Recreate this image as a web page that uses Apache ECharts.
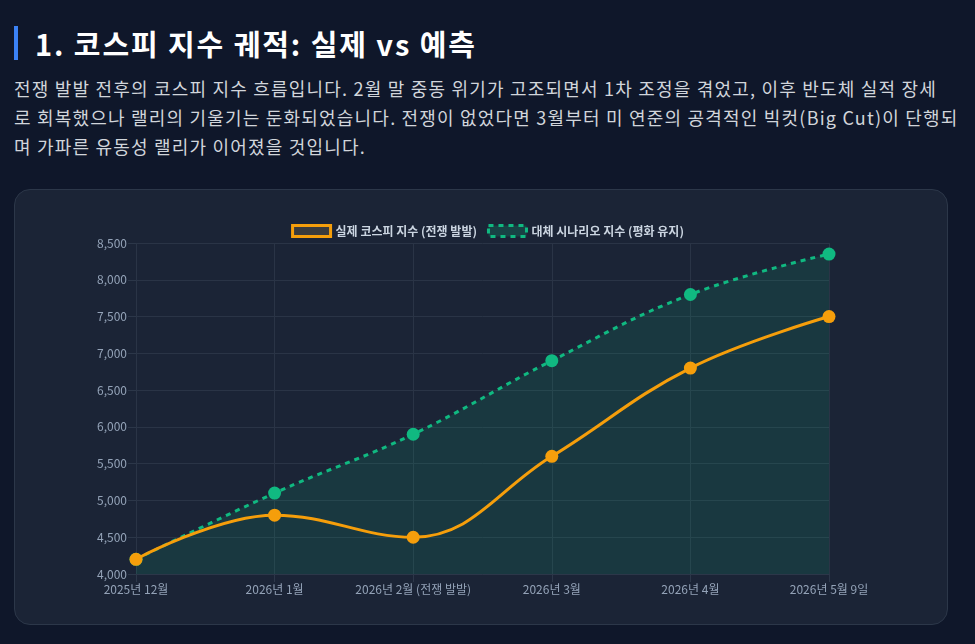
<!DOCTYPE html>
<html>
<head>
<meta charset="utf-8">
<script src="https://cdn.jsdelivr.net/npm/echarts@6/dist/echarts.min.js"></script>
<style>
  html, body { margin:0; padding:0; width:975px; height:644px; background:#0f172a; overflow:hidden; }
  body { font-family: "Noto Sans CJK KR", "Noto Sans", sans-serif; position:relative; }
  .title { position:absolute; left:14px; top:26px; height:34px; border-left:4px solid #3b82f6; padding-left:17px;
           color:#ffffff; font-weight:700; font-size:29px; letter-spacing:1.9px; line-height:34px; white-space:nowrap; }
  .desc { position:absolute; left:14px; top:74px; color:#d1d5db; font-size:18px; letter-spacing:1.2px; line-height:29px; white-space:nowrap; }
  .card { position:absolute; left:14px; top:189px; width:934px; height:436px; background:#1b2436;
          border:1px solid #2c3749; border-radius:16px; box-sizing:border-box; }
  #chart { position:absolute; left:0; top:0; width:975px; height:644px; }
</style>
</head>
<body>
<div class="title">1. 코스피 지수 궤적: 실제 vs 예측</div>
<div class="desc">전쟁 발발 전후의 코스피 지수 흐름입니다. 2월 말 중동 위기가 고조되면서 1차 조정을 겪었고, 이후 반도체 실적 장세<br>로 회복했으나 랠리의 기울기는 둔화되었습니다. 전쟁이 없었다면 3월부터 미 연준의 공격적인 빅컷(Big Cut)이 단행되<br>며 가파른 유동성 랠리가 이어졌을 것입니다.</div>
<div class="card"></div>
<div id="chart"></div>
<script>
const categories = ['2025년 12월', '2026년 1월', '2026년 2월 (전쟁 발발)', '2026년 3월', '2026년 4월', '2026년 5월 9일'];
const actualName = '실제 코스피 지수 (전쟁 발발)';
const altName = '대체 시나리오 지수 (평화 유지)';
const actualValues = [4200, 4800, 4500, 5600, 6800, 7500];
const altValues = [4200, 5100, 5900, 6900, 7800, 8350];

const chart = echarts.init(document.getElementById('chart'), null, { renderer: 'canvas' });
const font = '"Noto Sans CJK KR", "Noto Sans", sans-serif';
chart.setOption({
  backgroundColor: 'transparent',
  animation: false,
  textStyle: { fontFamily: font },
  legend: {
    top: 219,
    left: 'center',
    itemWidth: 38,
    itemHeight: 11,
    itemGap: 10,
    icon: 'rect',
    textStyle: { color: '#cbd5e1', fontSize: 12, fontWeight: 'bold', fontFamily: font },
    data: [
      { name: actualName, itemStyle: { color: '#3a3b3d', borderColor: '#f59e0b', borderWidth: 3 } },
      { name: altName, itemStyle: { color: '#194245', borderColor: '#10b981', borderWidth: 3, borderType: [5, 5] } }
    ]
  },
  grid: { left: 136, right: 146, top: 243, bottom: 70, containLabel: false },
  xAxis: {
    type: 'category',
    data: categories,
    boundaryGap: false,
    axisLine: { show: true, lineStyle: { color: '#2c3749' } },
    axisTick: { show: true, interval: 0, length: 8, lineStyle: { color: '#2c3749' } },
    splitLine: { show: true, interval: 0, lineStyle: { color: '#2a3446', width: 1 } },
    axisLabel: { color: '#94a3b8', fontSize: 12, margin: 9, interval: 0, hideOverlap: false, fontFamily: font }
  },
  yAxis: {
    type: 'value',
    min: 4000,
    max: 8500,
    interval: 500,
    axisLine: { show: false },
    axisTick: { show: true, length: 8, lineStyle: { color: '#2c3749' } },
    splitLine: { show: true, lineStyle: { color: '#2a3446', width: 1 } },
    axisLabel: { color: '#94a3b8', fontSize: 12, margin: 9, fontFamily: font,
      formatter: v => v.toLocaleString('en-US') }
  },
  series: [
    {
      name: altName,
      type: 'line',
      data: altValues,
      smooth: 0.4,
      symbol: 'circle',
      symbolSize: 13,
      itemStyle: { color: '#10b981' },
      lineStyle: { color: '#10b981', width: 3, type: [5, 5] },
      areaStyle: { color: 'rgba(16,185,129,0.2)', origin: 'start' },
      z: 2
    },
    {
      name: actualName,
      type: 'line',
      data: actualValues,
      smooth: 0.4,
      symbol: 'circle',
      symbolSize: 13,
      itemStyle: { color: '#f59e0b' },
      lineStyle: { color: '#f59e0b', width: 3 },
      z: 3
    }
  ]
});
</script>
</body>
</html>
